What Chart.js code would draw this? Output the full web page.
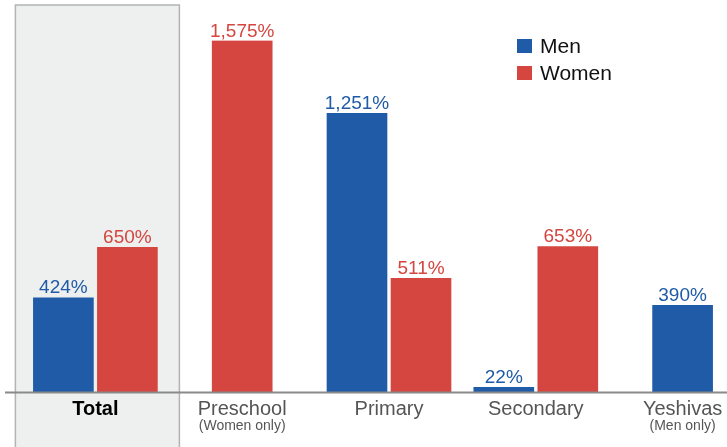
<!DOCTYPE html>
<html>
<head>
<meta charset="utf-8">
<script src="https://cdn.jsdelivr.net/npm/chart.js@4.4.1/dist/chart.umd.min.js"></script>
<style>
  html, body { margin: 0; padding: 0; overflow: hidden; background: #fff; }
  #wrap { width: 727px; height: 447px; overflow: hidden; }
</style>
</head>
<body>
<div id="wrap"><canvas id="chart" width="756" height="447"></canvas></div>
<script>
//------ Data ------//
const categories = ['Total', 'Preschool', 'Primary', 'Secondary', 'Yeshivas'];
const subLabels = ['', '(Women only)', '', '', '(Men only)'];
const menValues = [424, null, 1251, 22, 390];
const womenValues = [650, 1575, 511, 653, null];

const blue = '#1f5ba6';
const red = '#d4463f';
const fontFamily = '"Liberation Sans", Arial, sans-serif';
Chart.defaults.font.family = fontFamily;

//------ Grey box behind "Total" ------//
const totalBox = {
  id: 'totalBox',
  beforeDraw(chart) {
    const { ctx } = chart;
    const c = chart.scales.x.getPixelForValue(0);
    ctx.save();
    ctx.fillStyle = '#eef0f0';
    ctx.fillRect(c - 80, 5, 164, 460);
    ctx.strokeStyle = '#b3b3b3';
    ctx.lineWidth = 1.5;
    ctx.strokeRect(c - 80, 5, 164, 460);
    ctx.restore();
  }
};

//------ Value labels, baseline, sub labels, legend ------//
const extras = {
  id: 'extras',
  afterDatasetsDraw(chart) {
    const { ctx, chartArea } = chart;
    ctx.save();

    // baseline
    ctx.strokeStyle = '#8a8a8a';
    ctx.lineWidth = 2;
    ctx.beginPath();
    ctx.moveTo(5, chartArea.bottom + 0.5);
    ctx.lineTo(chart.width, chartArea.bottom + 0.5);
    ctx.stroke();

    // value labels
    ctx.font = '19px ' + fontFamily;
    ctx.textAlign = 'center';
    ctx.textBaseline = 'alphabetic';
    chart.data.datasets.forEach((ds, i) => {
      const meta = chart.getDatasetMeta(i);
      meta.data.forEach((bar, j) => {
        const v = ds.data[j];
        if (v == null) return;
        ctx.fillStyle = ds.backgroundColor;
        ctx.fillText(v.toLocaleString('en-US') + '%', bar.x, bar.y - 4);
      });
    });

    // sub labels under categories
    ctx.font = '14px ' + fontFamily;
    ctx.fillStyle = '#555';
    subLabels.forEach((s, i) => {
      if (!s) return;
      ctx.fillText(s, chart.scales.x.getPixelForTick(i), 430);
    });

    // legend
    const lx = 517, ly = [39, 66];
    chart.data.datasets.forEach((ds, i) => {
      ctx.fillStyle = ds.backgroundColor;
      ctx.fillRect(lx, ly[i], 15, 14);
      ctx.fillStyle = '#111';
      ctx.font = '21px ' + fontFamily;
      ctx.textAlign = 'left';
      ctx.fillText(ds.label, lx + 23, ly[i] + 14);
    });

    ctx.restore();
  }
};

//------ Chart ------//
const barStyle = {
  barThickness: 64,
  borderWidth: { left: 2, right: 2, top: 0, bottom: 0 },
  borderColor: 'rgba(0,0,0,0)',
  skipNull: true
};

new Chart(document.getElementById('chart'), {
  type: 'bar',
  data: {
    labels: categories,
    datasets: [
      { label: 'Men', data: menValues, backgroundColor: blue, ...barStyle },
      { label: 'Women', data: womenValues, backgroundColor: red, ...barStyle }
    ]
  },
  options: {
    responsive: false,
    animation: false,
    events: [],
    layout: { padding: { left: 22, right: 0, top: 0, bottom: 0 } },
    scales: {
      x: {
        grid: { display: false, drawTicks: false },
        border: { display: false },
        afterFit: (s) => { s.height = 55; },
        ticks: {
          padding: 5,
          autoSkip: false,
          maxRotation: 0,
          color: (c) => c.index === 0 ? '#000' : '#555',
          font: (c) => c.index === 0
            ? { size: 20, weight: 'bold' }
            : { size: 20 }
        }
      },
      y: { display: false, min: 0, max: 1757 }
    },
    plugins: {
      legend: { display: false },
      tooltip: { enabled: false }
    }
  },
  plugins: [totalBox, extras]
});
</script>
</body>
</html>
